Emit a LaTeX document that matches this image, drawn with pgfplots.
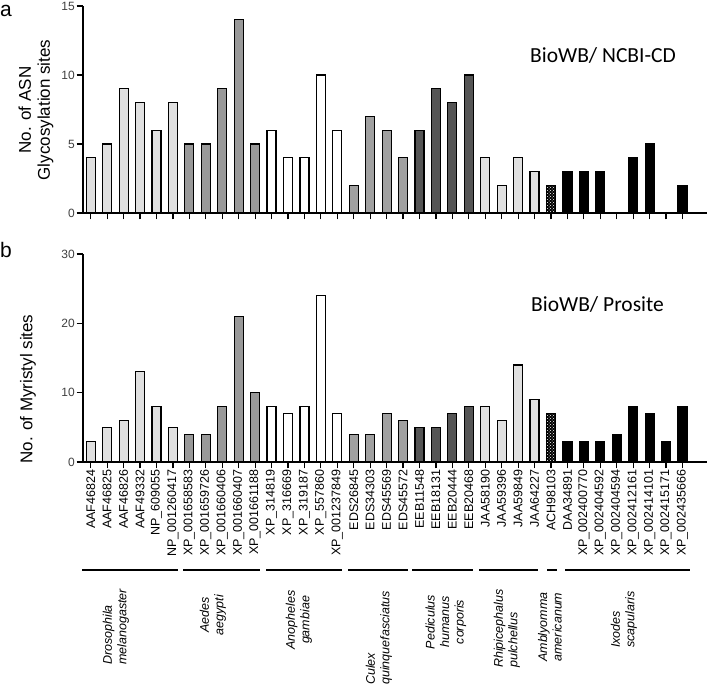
\documentclass[border=0pt]{standalone}
\usepackage{fontspec}
\setmainfont{Liberation Sans}
\newfontfamily\calibri{Carlito}
\usepackage{pgfplots}
\pgfplotsset{compat=1.18}
\usetikzlibrary{patterns}
\definecolor{lgray}{HTML}{E0E0E0}
\definecolor{mgray}{HTML}{999999}
\definecolor{cgray}{HTML}{A0A0A0}
\definecolor{dgray}{HTML}{555555}
\pgfplotsset{
  myax/.style={
    scale only axis, width=624pt, anchor=south west,
    axis x line*=bottom, axis y line*=left,
    xmin=-0.47, xmax=37.49, ymin=0,
    xtick={0,...,36},
    tick align=outside, major tick length=6.5pt,
    every tick/.style={black, line width=1.2pt},
    axis line style={line width=1.4pt},
    yticklabel style={font=\fontsize{12}{12}\selectfont, color=black!75, inner sep=1.5pt},
    /pgf/number format/assume math mode=true,
    ybar, bar width=9pt,
    every axis plot/.append style={draw=black, line width=1.2pt, bar shift=0pt},
    clip=false,
  },
  amb/.style={preaction={fill=black}, pattern=crosshatch dots, pattern color=white}
}
\begin{document}
\begin{tikzpicture}
\useasboundingbox (0pt,0pt) rectangle (708pt,687pt);
% ---------------- panel a
\begin{axis}[myax, at={(83pt,474pt)}, height=207pt, ymax=15, ytick={0,5,10,15}, xticklabels={}]
\addplot[fill=lgray] coordinates {(0,4) (1,5) (2,9) (3,8) (4,6) (5,8)};
\addplot[fill=mgray] coordinates {(6,5) (7,5) (8,9) (9,14) (10,5)};
\addplot[fill=white] coordinates {(11,6) (12,4) (13,4) (14,10) (15,6)};
\addplot[fill=cgray] coordinates {(16,2) (17,7) (18,6) (19,4)};
\addplot[fill=dgray] coordinates {(20,6) (21,9) (22,8) (23,10)};
\addplot[fill=lgray] coordinates {(24,4) (25,2) (26,4) (27,3)};
\addplot[amb] coordinates {(28,2)};
\addplot[fill=black] coordinates {(29,3) (30,3) (31,3) (32,0) (33,4) (34,5) (35,0) (36,2)};
\end{axis}
% ---------------- panel b
\begin{axis}[myax, at={(83pt,225pt)}, height=208pt, ymax=30, ytick={0,10,20,30},
  xticklabels={AAF46824,AAF46825,AAF46826,AAF49332,NP\_609055,NP\_001260417,
  XP\_001658583,XP\_001659726,XP\_001660406,XP\_001660407,XP\_001661188,
  XP\_314819,XP\_316669,XP\_319187,XP\_557860,XP\_001237849,
  EDS26845,EDS34303,EDS45569,EDS45572,
  EEB11548,EEB18131,EEB20444,EEB20468,
  JAA58190,JAA59396,JAA59849,JAA64227,
  ACH98103,
  DAA34891,XP\_002400770,XP\_002404592,XP\_002404594,XP\_002412161,XP\_002414101,XP\_002415171,XP\_002435666},
  xticklabel style={rotate=90, anchor=east, font=\fontsize{12.5}{12.5}\selectfont, inner sep=1pt}]
\addplot[fill=lgray] coordinates {(0,3) (1,5) (2,6) (3,13) (4,8) (5,5)};
\addplot[fill=mgray] coordinates {(6,4) (7,4) (8,8) (9,21) (10,10)};
\addplot[fill=white] coordinates {(11,8) (12,7) (13,8) (14,24) (15,7)};
\addplot[fill=cgray] coordinates {(16,4) (17,4) (18,7) (19,6)};
\addplot[fill=dgray] coordinates {(20,5) (21,5) (22,7) (23,8)};
\addplot[fill=lgray] coordinates {(24,8) (25,6) (26,14) (27,9)};
\addplot[amb] coordinates {(28,7)};
\addplot[fill=black] coordinates {(29,3) (30,3) (31,3) (32,4) (33,8) (34,7) (35,3) (36,8)};
\end{axis}
% ---------------- annotations
\node[anchor=base west, inner sep=0, font=\fontsize{21}{21}\selectfont] at (0pt,670pt) {a};
\node[anchor=base west, inner sep=0, font=\fontsize{21}{21}\selectfont] at (0pt,429pt) {b};
\node[anchor=base west, inner sep=0, font=\calibri\fontsize{21.5}{21.5}\selectfont] at (530pt,624pt) {BioWB/ NCBI-CD};
\node[anchor=base west, inner sep=0, font=\calibri\fontsize{21.5}{21.5}\selectfont] at (531pt,375pt) {BioWB/ Prosite};
\node[rotate=90, align=center, inner sep=0, font=\fontsize{17}{19}\selectfont] at (36pt,577pt) {No. of ASN\\Glycosylation sites};
\node[rotate=90, inner sep=0, font=\fontsize{17}{19}\selectfont] at (28pt,298pt) {No. of Myristyl sites};
% group lines
\foreach \a/\b in {82/178,183/260,266/342,348/408,412/473,479/538,547/557,565/690}
  \draw[line width=1.4pt] (\a pt,117pt) -- (\b pt,117pt);
% species names
\tikzset{sp/.style={rotate=90, inner sep=0, font=\itshape\fontsize{12.5}{14.5}\selectfont}}
\node[sp, align=left, anchor=west] at (116pt,22pt) {Drosophila\\melanogaster};
\node[sp, align=center] at (213pt,72pt) {Aedes\\aegypti};
\node[sp, align=center] at (299pt,67pt) {Anopheles\\gambiae};
\node[sp, align=left, anchor=west] at (379pt,2pt) {Culex\\quinquefasciatus};
\node[sp, align=center] at (446pt,65pt) {Pediculus\\humanus\\corporis};
\node[sp, align=left, anchor=west] at (507pt,19pt) {Rhipicephalus\\pulchellus};
\node[sp, align=center] at (550pt,60pt) {Amblyomma\\americanum};
\node[sp, align=left, anchor=west] at (624pt,39pt) {Ixodes\\scapularis};
\end{tikzpicture}
\end{document}
